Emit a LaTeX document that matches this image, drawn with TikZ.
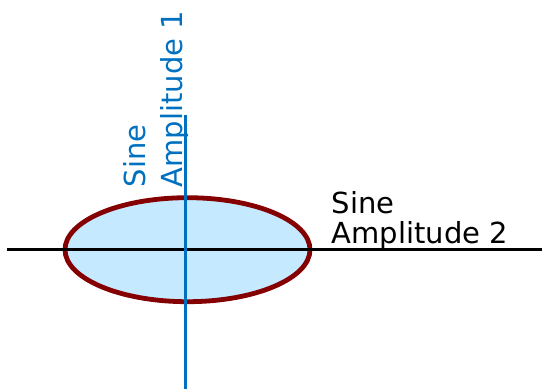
\documentclass[tikz,border=0pt]{standalone}
\usepackage{fontspec}
\setmainfont{DejaVu Sans}
\usetikzlibrary{shapes.geometric}
\definecolor{ampblue}{HTML}{0070C0}
\definecolor{ampred}{HTML}{850000}
\definecolor{ampfill}{HTML}{C5E9FF}
\tikzset{
  ampaxis/.style  = {line width=2.5pt},
  amplbl/.style   = {font=\fontsize{29}{29.7}\selectfont, align=left,
                     inner sep=0pt, anchor=base west},
  ampellip/.style = {ellipse, draw=ampred, fill=ampfill, line width=4.8pt,
                     minimum width=245pt, minimum height=104pt, inner sep=0pt},
}
\begin{document}
\begin{tikzpicture}[x=1pt, y=-1pt]
  \useasboundingbox (0,0) rectangle (542,389);

  \node[ampellip] (orbit) at (187.5,249.7) {};

  \coordinate (hleft)  at (7,249.7);
  \coordinate (hright) at (542,249.7);
  \coordinate (vtop)   at (185.3,115);
  \coordinate (vbot)   at (185.3,389);

  \draw[ampaxis, black] (hleft) -- (hright);
  \draw[ampaxis, ampblue] (vtop) -- (vbot);

  \node[amplbl, text=ampblue, rotate=90,
        font=\fontsize{29}{36.5}\selectfont] (amp1) at (182,187.5)
       {Sine\\Amplitude 1};
  \node[amplbl] (amp2) at (331.5,243) {Sine\\Amplitude 2};
\end{tikzpicture}
\end{document}
